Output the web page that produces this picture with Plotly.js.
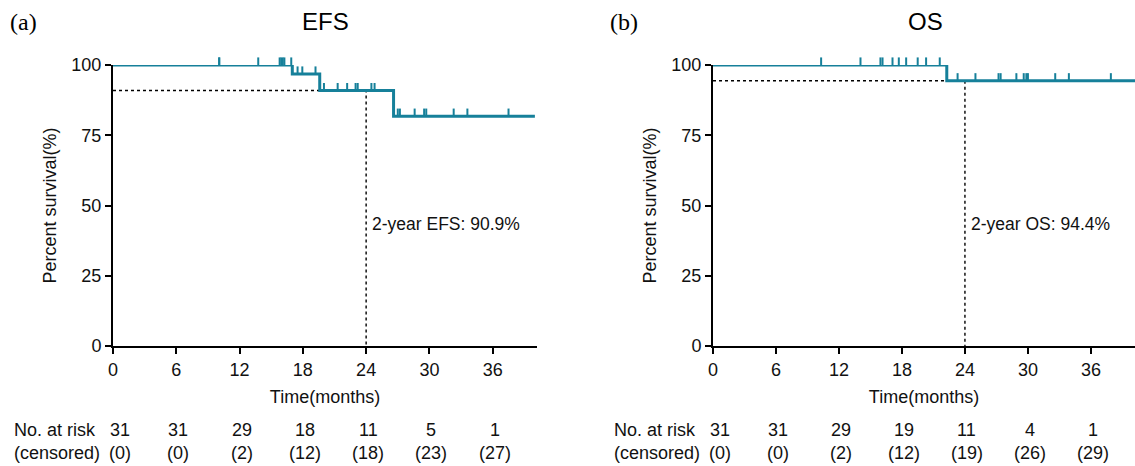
<!DOCTYPE html>
<html>
<head>
<meta charset="utf-8">
<script src="https://cdn.plot.ly/plotly-3.0.1.min.js"></script>
<style>
  html, body { margin: 0; padding: 0; background: #fff; }
  #chart { width: 1135px; height: 466px; }
</style>
</head>
<body>
<div id="chart"></div>
<script>
// ---------------- DATA ----------------
const xTicks = [0, 6, 12, 18, 24, 30, 36];
const yTicks = [0, 25, 50, 75, 100];

// EFS (a)
const efsEventTimes = [17.0, 19.6, 26.6];
const efsSurvAfter  = [96.8, 90.9, 81.8];
const efsEndTime = 40.0;
const efsCensorTimes = [10.07, 10.07, 13.77, 15.8, 15.95, 16.1, 16.25, 16.9, 17.5, 17.95,
                        19.2, 20.0, 21.3, 22.2, 23.0, 23.2, 24.5, 24.8,
                        27.0, 27.2, 28.6, 29.5, 29.7, 32.3, 33.6, 37.5];
const efsTwoYear = 90.9;
const efsRisk = [31, 31, 29, 18, 11, 5, 1];
const efsCensored = [0, 0, 2, 12, 18, 23, 27];

// OS (b)
const osEventTimes = [22.27];
const osSurvAfter  = [94.4];
const osEndTime = 40.3;
const osCensorTimes = [10.3, 14.05, 15.95, 16.15, 17.1, 17.7, 18.4, 19.5, 20.3, 21.6,
                       23.3, 25.0, 27.2, 27.4, 28.9, 29.6, 29.85, 30.0, 32.6, 33.9, 37.9];
const osTwoYear = 94.4;
const osRisk = [31, 31, 29, 19, 11, 4, 1];
const osCensored = [0, 0, 2, 12, 19, 26, 29];

// ---------------- HELPERS ----------------
const W = 1135, H = 466;
const TEAL = '#16809a';
const FONT = 'Liberation Sans, Arial, Helvetica, sans-serif';
const NARROW = 'Liberation Sans Narrow, Arial Narrow, Liberation Sans, Arial, sans-serif';
const px = x => x / W;          // pixel x -> paper
const py = y => 1 - y / H;      // pixel y -> paper

const plotTop = 65, plotBottom = 346;
const plotHpx = plotBottom - plotTop;
const extraPx = 14;                               // room above 100% for censor ticks
const tickOffset = 3.8 * 100 / plotHpx;           // lift censor ticks above line (px -> data)
const yMaxExt = 100 * (plotHpx + extraPx) / plotHpx;

function survAt(t, evT, evS) {
  let s = 100;
  for (let i = 0; i < evT.length; i++) if (t >= evT[i]) s = evS[i];
  return s;
}

function curveTraces(evT, evS, endT, cT, twoYear, xa, ya, yaExt) {
  const cx = [0].concat(evT, [endT]);
  const cy = [100].concat(evS, [evS[evS.length - 1]]);
  return [
    { // dashed reference
      type: 'scatter', mode: 'lines', xaxis: xa, yaxis: ya,
      x: [0, 24, 24], y: [twoYear, twoYear, 0],
      line: { color: '#000', width: 1.4, dash: '3px,3px' },
      hoverinfo: 'skip', showlegend: false
    },
    { // KM curve
      type: 'scatter', mode: 'lines', xaxis: xa, yaxis: ya,
      x: cx, y: cy, line: { color: TEAL, width: 3, shape: 'hv' },
      showlegend: false
    },
    { // censor marks (on an extended, invisible y axis with identical scale)
      type: 'scatter', mode: 'markers', xaxis: xa, yaxis: yaExt,
      x: cT, y: cT.map(t => survAt(t, evT, evS) + tickOffset),
      marker: { symbol: 'line-ns', size: 5.4, color: TEAL, line: { color: TEAL, width: 2 } },
      showlegend: false
    }
  ];
}

const data = [].concat(
  curveTraces(efsEventTimes, efsSurvAfter, efsEndTime, efsCensorTimes, efsTwoYear, 'x', 'y', 'y3'),
  curveTraces(osEventTimes, osSurvAfter, osEndTime, osCensorTimes, osTwoYear, 'x2', 'y2', 'y4')
);

function xAxis(domain, anchor) {
  return {
    domain: domain, anchor: anchor, range: [0, 40.2],
    tickvals: xTicks, ticktext: xTicks.map(String),
    ticks: 'outside', ticklen: 6, tickwidth: 2, tickcolor: '#000',
    showline: true, linewidth: 2, linecolor: '#000',
    showgrid: false, zeroline: false,
    tickfont: { family: FONT, size: 18, color: '#111' },
    title: { text: 'Time(months)', font: { family: FONT, size: 18, color: '#111' }, standoff: 12 },
    automargin: false
  };
}
function yAxis(anchor) {
  return {
    domain: [py(plotBottom), py(plotTop)], anchor: anchor, range: [0, 100],
    tickvals: yTicks, ticktext: yTicks.map(String),
    ticks: 'outside', ticklen: 6, tickwidth: 2, tickcolor: '#000',
    showline: true, linewidth: 2, linecolor: '#000',
    showgrid: false, zeroline: false,
    tickfont: { family: FONT, size: 18, color: '#111' },
    title: { text: 'Percent survival(%)', font: { family: FONT, size: 18, color: '#111' }, standoff: 10 },
    automargin: false
  };
}
function yAxisExt(anchor) {
  return {
    domain: [py(plotBottom), py(plotTop - extraPx)], anchor: anchor, range: [0, yMaxExt],
    visible: false, showgrid: false, zeroline: false, fixedrange: true
  };
}

const leftX0 = 113, leftX1 = 537, rightX0 = 713, rightX1 = 1135;

const annotations = [];
function panelAnn(letter, title, x0, xa, ya, twoYearText, risk, cens) {
  annotations.push({ xref: 'paper', yref: 'paper', x: px(x0 - 105), y: py(22), xanchor: 'left', yanchor: 'middle',
    text: letter, showarrow: false, font: { family: 'Liberation Serif, Times New Roman, serif', size: 24, color: '#000' } });
  annotations.push({ xref: 'paper', yref: 'paper', x: px(x0 + 212), y: py(22), xanchor: 'center', yanchor: 'middle',
    text: title, showarrow: false, font: { family: FONT, size: 24, color: '#000' } });
  annotations.push({ xref: xa, yref: ya, x: 24, y: 43.5, xanchor: 'left', yanchor: 'middle', xshift: 4,
    text: twoYearText, showarrow: false, font: { family: FONT, size: 17.5, color: '#111' } });
  annotations.push({ xref: 'paper', yref: 'paper', x: px(x0 - 101), y: py(430), xanchor: 'left', yanchor: 'middle',
    text: 'No. at risk', showarrow: false, font: { family: FONT, size: 18, color: '#111' } });
  annotations.push({ xref: 'paper', yref: 'paper', x: px(x0 - 101), y: py(453), xanchor: 'left', yanchor: 'middle',
    text: '(censored)', showarrow: false, font: { family: FONT, size: 18, color: '#111' } });
  xTicks.forEach((t, i) => {
    const sh = i === 0 ? 7 : 2;
    annotations.push({ xref: xa, yref: 'paper', x: t, y: py(430), xanchor: 'center', yanchor: 'middle', xshift: sh,
      text: String(risk[i]), showarrow: false, font: { family: NARROW, size: 18, color: '#111' } });
    annotations.push({ xref: xa, yref: 'paper', x: t, y: py(453), xanchor: 'center', yanchor: 'middle', xshift: sh,
      text: '(' + cens[i] + ')', showarrow: false, font: { family: NARROW, size: 18, color: '#111' } });
  });
}
panelAnn('(a)', 'EFS', leftX0, 'x', 'y', '2-year EFS: ' + efsTwoYear + '%', efsRisk, efsCensored);
panelAnn('(b)', 'OS', rightX0, 'x2', 'y2', '2-year OS: ' + osTwoYear + '%', osRisk, osCensored);

const layout = {
  width: W, height: H,
  margin: { l: 0, r: 0, t: 0, b: 0 },
  paper_bgcolor: '#fff', plot_bgcolor: 'rgba(0,0,0,0)',
  showlegend: false,
  xaxis: xAxis([px(leftX0), px(leftX1)], 'y'),
  yaxis: yAxis('x'),
  xaxis2: xAxis([px(rightX0), px(rightX1)], 'y2'),
  yaxis2: yAxis('x2'),
  yaxis3: yAxisExt('x'),
  yaxis4: yAxisExt('x2'),
  annotations: annotations
};

Plotly.newPlot('chart', data, layout, { staticPlot: true, displayModeBar: false });
</script>
</body>
</html>
